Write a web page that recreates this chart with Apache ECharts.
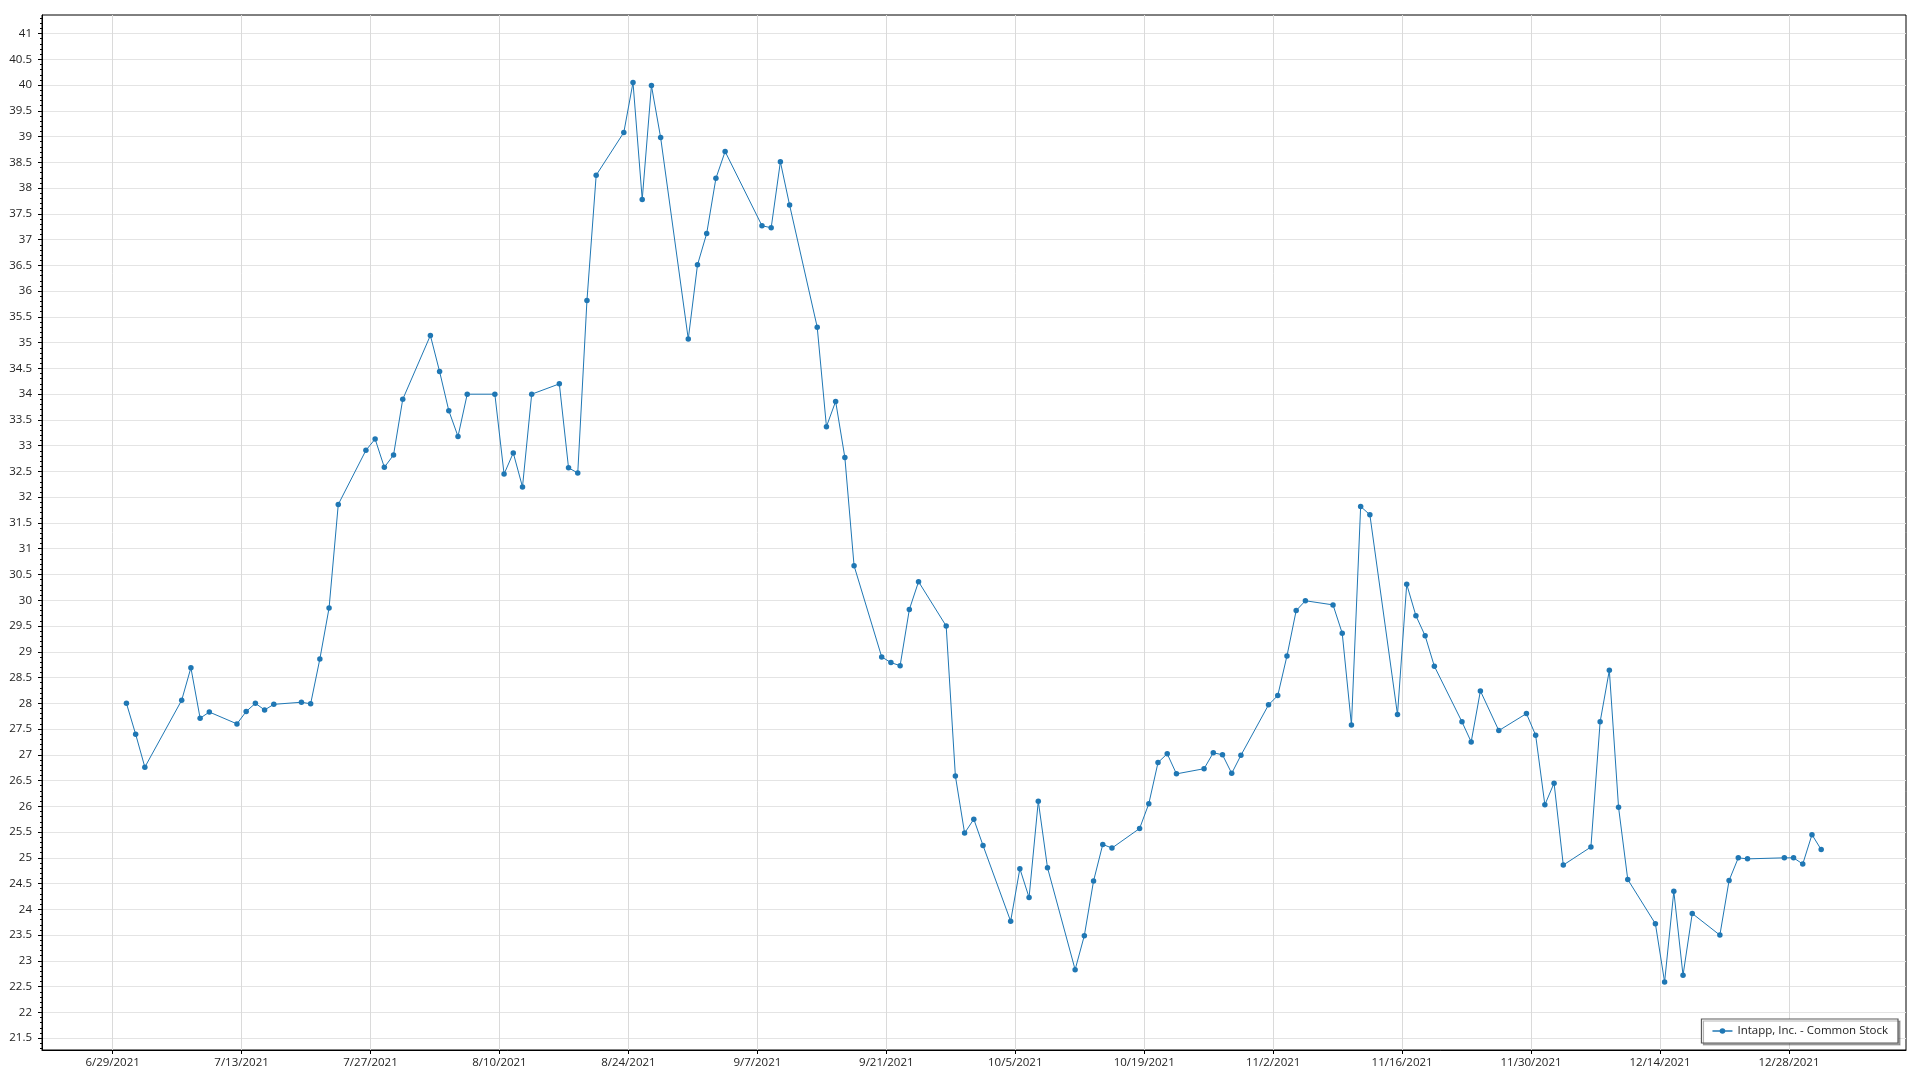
<!DOCTYPE html>
<html>
<head>
<meta charset="utf-8">
<script src="https://cdn.jsdelivr.net/npm/echarts@6/dist/echarts.min.js"></script>
<style>
html,body{margin:0;padding:0;background:#fff;}
#chart{width:1920px;height:1080px;}
</style>
</head>
<body>
<div id="chart"></div>
<script>
var seriesName = 'Intapp, Inc. - Common Stock';

var dates = [
'2021-06-30','2021-07-01','2021-07-02','2021-07-06','2021-07-07','2021-07-08','2021-07-09',
'2021-07-12','2021-07-13','2021-07-14','2021-07-15','2021-07-16',
'2021-07-19','2021-07-20','2021-07-21','2021-07-22','2021-07-23',
'2021-07-26','2021-07-27','2021-07-28','2021-07-29','2021-07-30',
'2021-08-02','2021-08-03','2021-08-04','2021-08-05','2021-08-06',
'2021-08-09','2021-08-10','2021-08-11','2021-08-12','2021-08-13',
'2021-08-16','2021-08-17','2021-08-18','2021-08-19','2021-08-20',
'2021-08-23','2021-08-24','2021-08-25','2021-08-26','2021-08-27',
'2021-08-30','2021-08-31','2021-09-01','2021-09-02','2021-09-03',
'2021-09-07','2021-09-08','2021-09-09','2021-09-10',
'2021-09-13','2021-09-14','2021-09-15','2021-09-16','2021-09-17',
'2021-09-20','2021-09-21','2021-09-22','2021-09-23','2021-09-24',
'2021-09-27','2021-09-28','2021-09-29','2021-09-30','2021-10-01',
'2021-10-04','2021-10-05','2021-10-06','2021-10-07','2021-10-08',
'2021-10-11','2021-10-12','2021-10-13','2021-10-14','2021-10-15',
'2021-10-18','2021-10-19','2021-10-20','2021-10-21','2021-10-22',
'2021-10-25','2021-10-26','2021-10-27','2021-10-28','2021-10-29',
'2021-11-01','2021-11-02','2021-11-03','2021-11-04','2021-11-05',
'2021-11-08','2021-11-09','2021-11-10','2021-11-11','2021-11-12',
'2021-11-15','2021-11-16','2021-11-17','2021-11-18','2021-11-19',
'2021-11-22','2021-11-23','2021-11-24','2021-11-26',
'2021-11-29','2021-11-30','2021-12-01','2021-12-02','2021-12-03',
'2021-12-06','2021-12-07','2021-12-08','2021-12-09','2021-12-10',
'2021-12-13','2021-12-14','2021-12-15','2021-12-16','2021-12-17',
'2021-12-20','2021-12-21','2021-12-22','2021-12-23',
'2021-12-27','2021-12-28','2021-12-29','2021-12-30','2021-12-31'
];

var prices = [
28.00,27.40,26.76,28.06,28.69,27.71,27.83,
27.60,27.84,28.00,27.87,27.98,
28.02,27.99,28.86,29.85,31.86,
32.91,33.13,32.58,32.82,33.90,
35.14,34.44,33.68,33.18,34.00,
34.00,32.45,32.86,32.20,34.00,
34.20,32.57,32.47,35.82,38.25,
39.08,40.05,37.78,39.99,38.98,
35.07,36.51,37.12,38.19,38.71,
37.27,37.23,38.51,37.67,
35.30,33.37,33.86,32.77,30.67,
28.90,28.79,28.73,29.82,30.36,
29.50,26.59,25.48,25.75,25.24,
23.77,24.79,24.23,26.10,24.81,
22.83,23.49,24.55,25.26,25.19,
25.57,26.05,26.85,27.02,26.63,
26.73,27.04,27.00,26.64,26.99,
27.97,28.15,28.92,29.80,29.99,
29.91,29.36,27.58,31.82,31.66,
27.78,30.31,29.70,29.31,28.72,
27.64,27.25,28.24,27.47,
27.80,27.38,26.03,26.45,24.86,
25.21,27.64,28.64,25.98,24.58,
23.72,22.59,24.35,22.72,23.92,
23.50,24.56,25.00,24.98,
25.00,25.00,24.88,25.45,25.16
];

var xTickDates = ['2021-06-29','2021-07-13','2021-07-27','2021-08-10','2021-08-24','2021-09-07','2021-09-21',
'2021-10-05','2021-10-19','2021-11-02','2021-11-16','2021-11-30','2021-12-14','2021-12-28'];

var yTicks = [21.5,22,22.5,23,23.5,24,24.5,25,25.5,26,26.5,27,27.5,28,28.5,29,29.5,30,30.5,31,31.5,32,32.5,33,33.5,34,34.5,35,35.5,36,36.5,37,37.5,38,38.5,39,39.5,40,40.5,41];

var yMin = 21.27, yMax = 41.36;
var xMinStr = '2021-06-21 08:00', xMaxStr = '2022-01-09 17:00';

function toTs(s, h, mi) {
  var p = s.split(' ');
  var d = p[0].split('-');
  var hh = h, mm = mi;
  if (p[1]) { var t = p[1].split(':'); hh = +t[0]; mm = +t[1]; }
  return Date.UTC(+d[0], +d[1] - 1, +d[2], hh || 0, mm || 0);
}

var seriesData = dates.map(function (d, i) { return [toTs(d, 12, 0), prices[i]]; });
var xTicks = xTickDates.map(function (d) { return toTs(d, 0, 0); });
var minorTicks = [];
for (var k = 213; k <= 413; k++) { minorTicks.push(k / 10); }

var FONT = '"Open Sans", "Noto Sans", sans-serif';

var chart = echarts.init(document.getElementById('chart'), null, {renderer: 'canvas'});
chart.setOption({
  backgroundColor: '#ffffff',
  animation: false,
  grid: {
    left: 42, top: 15, right: 14, bottom: 30,
    show: true, borderColor: '#000', borderWidth: 1,
    containLabel: false, outerBoundsMode: 'none'
  },
  legend: {
    data: [seriesName],
    right: 22, bottom: 37,
    backgroundColor: '#ffffff',
    borderColor: '#5a5a5a', borderWidth: 1.2, borderRadius: 0,
    padding: [6, 10, 6, 10],
    itemWidth: 20, itemHeight: 7,
    lineStyle: {width: 2, opacity: 0.75},
    shadowColor: 'rgba(0,0,0,0.3)', shadowBlur: 0, shadowOffsetX: 2, shadowOffsetY: 2,
    textStyle: {fontSize: 11.5, color: '#222', fontFamily: FONT}
  },
  xAxis: {
    type: 'value',
    min: toTs(xMinStr), max: toTs(xMaxStr),
    axisLine: {show: true, lineStyle: {color: '#000', width: 1}},
    axisTick: {show: true, customValues: xTicks, length: 4, lineStyle: {color: '#000'}},
    axisLabel: {
      customValues: xTicks, margin: 7, color: '#222', fontSize: 11.5, fontFamily: FONT,
      hideOverlap: false,
      formatter: function (v) { var d = new Date(v); return (d.getUTCMonth() + 1) + '/' + d.getUTCDate() + '/' + d.getUTCFullYear(); }
    },
    splitLine: {show: true, lineStyle: {color: '#dadada', width: 1}}
  },
  yAxis: [{
    type: 'value', min: yMin, max: yMax,
    axisLine: {show: true, lineStyle: {color: '#000', width: 1}},
    axisTick: {show: true, customValues: yTicks, length: 4, lineStyle: {color: '#000'}},
    axisLabel: {customValues: yTicks, margin: 10, color: '#222', fontSize: 11.5, fontFamily: FONT,
      formatter: function (v) { return String(v); }},
    splitLine: {show: true, lineStyle: {color: '#e4e4e4', width: 1}}
  }, {
    type: 'value', min: yMin, max: yMax, position: 'left', offset: 0,
    axisLine: {show: false},
    axisTick: {show: true, customValues: minorTicks, length: 2, lineStyle: {color: '#000'}},
    axisLabel: {show: false},
    splitLine: {show: false}
  }],
  series: [{
    name: seriesName,
    type: 'line',
    yAxisIndex: 0,
    data: seriesData,
    symbol: 'circle', symbolSize: 5.5, showSymbol: true, showAllSymbol: true,
    color: '#1f77b4',
    lineStyle: {width: 1, color: '#1f77b4'},
    itemStyle: {color: '#1f77b4'}
  }]
});
</script>
</body>
</html>
